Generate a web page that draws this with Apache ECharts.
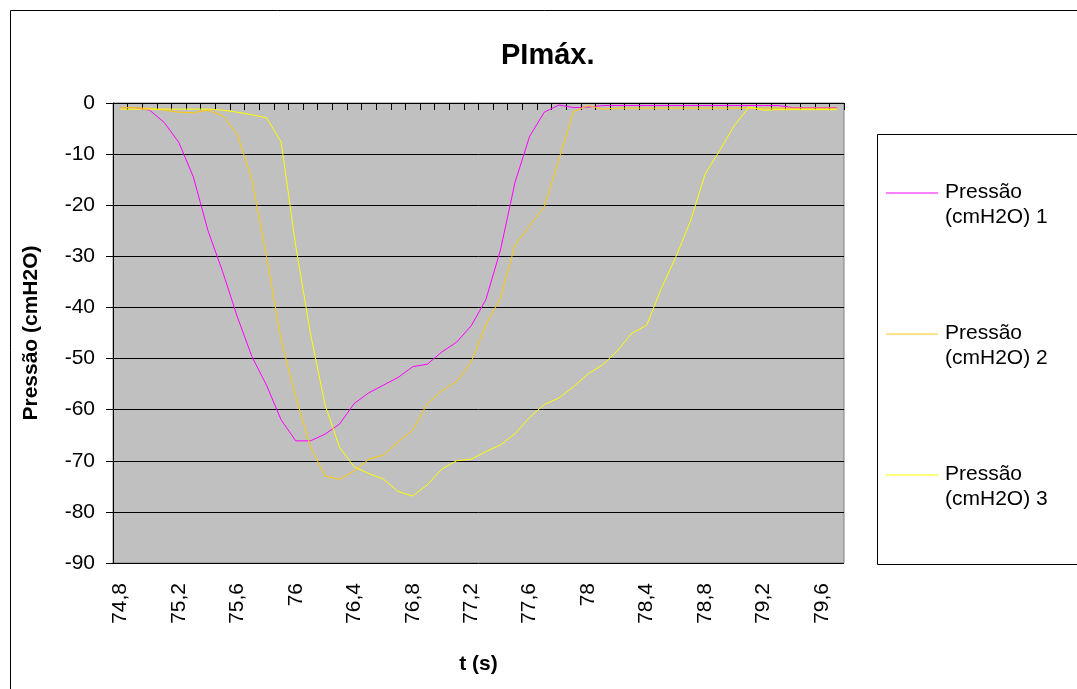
<!DOCTYPE html>
<html>
<head>
<meta charset="utf-8">
<script src="https://cdn.jsdelivr.net/npm/echarts@6/dist/echarts.min.js"></script>
<style>
html,body{margin:0;padding:0;background:#fff;}
#chart{width:1077px;height:689px;}
</style>
</head>
<body>
<div id="chart"></div>
<script>
// Category labels (time, s)
const categories = ['74,8','74,9','75','75,1','75,2','75,3','75,4','75,5','75,6','75,7',
  '75,8','75,9','76','76,1','76,2','76,3','76,4','76,5','76,6','76,7',
  '76,8','76,9','77','77,1','77,2','77,3','77,4','77,5','77,6','77,7',
  '77,8','77,9','78','78,1','78,2','78,3','78,4','78,5','78,6','78,7',
  '78,8','78,9','79','79,1','79,2','79,3','79,4','79,5','79,6','79,7'];

const seriesNames = ['Pressão\n(cmH2O) 1','Pressão\n(cmH2O) 2','Pressão\n(cmH2O) 3'];

const pressure1 = [-0.9,-0.9,-1.4,-3.8,-7.7,-14.5,-25,-33,-41.8,-49.6,
  -55.2,-62,-66.1,-66.1,-64.8,-62.8,-58.8,-56.7,-55.2,-53.7,
  -51.6,-51.1,-48.7,-46.8,-43.6,-38.5,-28.8,-15.5,-6.5,-1.8,
  -0.4,-0.9,-0.8,-0.5,-0.5,-0.5,-0.5,-0.5,-0.5,-0.5,
  -0.5,-0.5,-0.5,-0.5,-0.5,-0.5,-0.9,-0.9,-0.9,-0.9];

const pressure2 = [-0.9,-0.9,-1.1,-1.4,-1.8,-1.9,-1.4,-2.5,-6.1,-15,
  -30,-46.4,-57.5,-67.2,-73,-73.6,-72,-69.7,-68.9,-66.3,
  -64,-58.8,-56.3,-54.5,-50.7,-43.4,-38.2,-27.8,-24,-20.3,
  -11,-1.7,-0.5,-1.2,-1,-1,-1,-1,-1,-1,
  -1,-1,-1,-1,-1,-1,-1,-1,-1,-1];

const pressure3 = [-1.2,-1.2,-1.2,-1.2,-1.2,-1.2,-1.2,-1.4,-1.8,-2.3,
  -2.9,-7.6,-28,-45,-59,-67.4,-71.2,-72.5,-73.6,-76,
  -76.9,-74.7,-71.6,-70,-69.7,-68.2,-66.9,-64.7,-61.5,-59,
  -57.7,-55.5,-53,-51.2,-48.5,-45,-43.5,-36.3,-30.1,-23.1,
  -13.9,-9.3,-4.4,-0.8,-1.4,-1.3,-1.3,-1.3,-1.3,-1.3];

const FONT = 'Liberation Sans, Arial, sans-serif';
const colors = ['#FF00FF', '#FFCC00', '#FFFF00'];

const chart = echarts.init(document.getElementById('chart'), null, {renderer: 'canvas'});

chart.setOption({
  animation: false,
  backgroundColor: '#ffffff',
  title: {
    text: 'PImáx.',
    left: 501,
    top: 41,
    padding: 0,
    textStyle: {fontFamily: FONT, fontWeight: 'bold', fontSize: 29, color: '#000'}
  },
  graphic: [
    {type: 'rect', z: -10, silent: true,
      shape: {x: 10.5, y: 10.5, width: 1200, height: 800},
      style: {fill: 'none', stroke: '#000', lineWidth: 1}},
    {type: 'rect', z: -10, silent: true,
      shape: {x: 877.5, y: 134.5, width: 300, height: 430},
      style: {fill: '#fff', stroke: '#000', lineWidth: 1}}
  ],
  legend: {
    orient: 'vertical',
    left: 886,
    top: 182,
    padding: 0,
    icon: 'rect',
    itemWidth: 52,
    itemHeight: 1,
    itemGap: 95,
    itemStyle: {borderWidth: 0},
    data: seriesNames,
    formatter: function (name) {
      const parts = name.split('\n');
      return '{a|' + parts[0] + '}\n{b|' + parts[1] + '}';
    },
    textStyle: {
      fontFamily: FONT, fontSize: 21, color: '#000',
      rich: {
        a: {fontFamily: FONT, fontSize: 21, color: '#000', lineHeight: 49, verticalAlign: 'bottom', padding: [0, 0, 0, 2]},
        b: {fontFamily: FONT, fontSize: 21, color: '#000', lineHeight: 29, padding: [0, 0, 0, 2]}
      }
    }
  },
  grid: {
    left: 113, right: 233, top: 103, bottom: 126,
    show: true, backgroundColor: '#C0C0C0', borderColor: '#808080', borderWidth: 1
  },
  xAxis: [
    {
      type: 'category', position: 'bottom', data: categories, boundaryGap: true,
      axisLine: {show: true, lineStyle: {color: '#808080', width: 1}},
      axisTick: {show: false},
      splitLine: {show: false},
      axisLabel: {rotate: 90, interval: 3, margin: 20, fontFamily: FONT, fontSize: 21, color: '#000'},
      name: 't (s)', nameLocation: 'middle', nameGap: 91,
      nameTextStyle: {fontFamily: FONT, fontWeight: 'bold', fontSize: 21, color: '#000'}
    },
    {
      type: 'category', position: 'top', data: categories, boundaryGap: true,
      axisLine: {show: true, onZero: false, lineStyle: {color: '#000', width: 1}},
      axisTick: {show: true, inside: true, length: 7, interval: 0, lineStyle: {color: '#000'}},
      axisLabel: {show: false},
      splitLine: {show: false}
    }
  ],
  yAxis: {
    type: 'value', min: -90, max: 0, interval: 10,
    axisLine: {show: true, lineStyle: {color: '#000', width: 1}},
    axisTick: {show: true, inside: false, length: 7, lineStyle: {color: '#000'}},
    splitLine: {show: true, lineStyle: {color: '#000', width: 1}},
    axisLabel: {margin: 18, fontFamily: FONT, fontSize: 21, color: '#000'},
    name: 'Pressão (cmH2O)', nameLocation: 'middle', nameGap: 71, nameRotate: 90,
    nameTextStyle: {fontFamily: FONT, fontWeight: 'bold', fontSize: 21, color: '#000'}
  },
  series: [
    {name: seriesNames[0], type: 'line', data: pressure1, xAxisIndex: 0, symbol: 'none',
      color: colors[0], lineStyle: {color: colors[0], width: 1}},
    {name: seriesNames[1], type: 'line', data: pressure2, xAxisIndex: 0, symbol: 'none',
      color: colors[1], lineStyle: {color: colors[1], width: 1}},
    {name: seriesNames[2], type: 'line', data: pressure3, xAxisIndex: 0, symbol: 'none',
      color: colors[2], lineStyle: {color: colors[2], width: 1}}
  ]
});
</script>
</body>
</html>
